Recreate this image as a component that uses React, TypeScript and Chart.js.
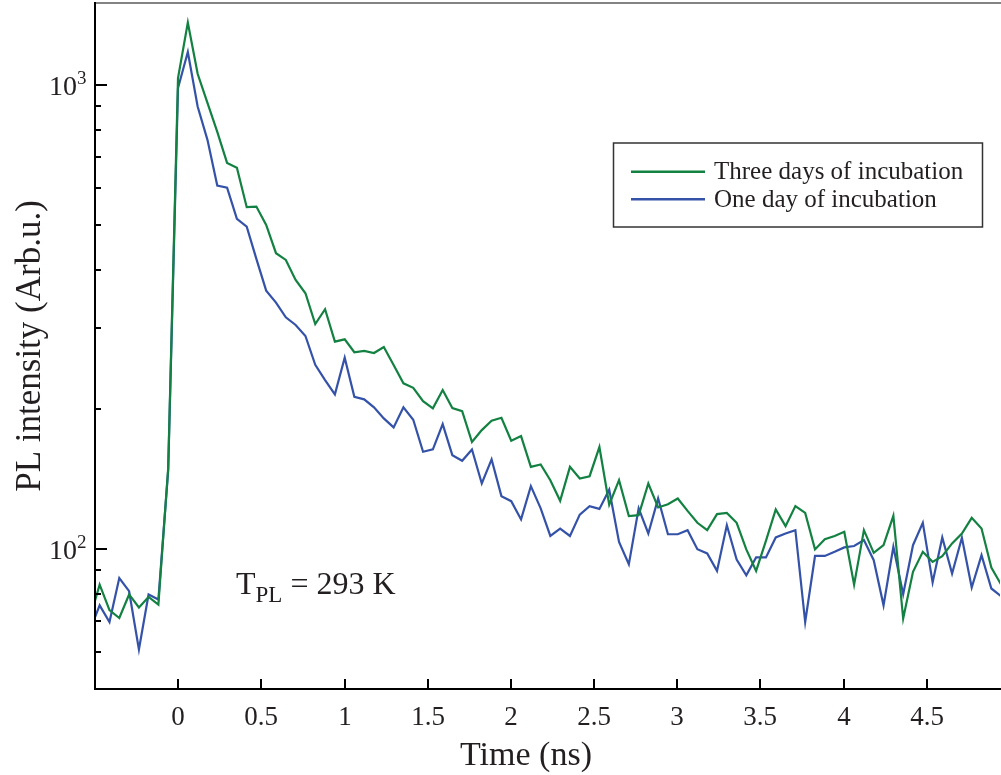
import React, { useEffect, useRef } from "react";
import { Chart, registerables } from "chart.js";

Chart.register(...registerables);

// ---- data (time in ns, PL intensity in arb. units) ----
const timeNs = [
  -0.531, -0.472, -0.413, -0.354, -0.295, -0.236, -0.178, -0.119, -0.06, -0.001,
  0.058, 0.117, 0.176, 0.235, 0.294, 0.353, 0.412, 0.47, 0.529, 0.588,
  0.647, 0.706, 0.765, 0.824, 0.883, 0.942, 1.001, 1.059, 1.118, 1.177,
  1.236, 1.295, 1.354, 1.413, 1.472, 1.531, 1.59, 1.648, 1.707, 1.766,
  1.825, 1.884, 1.943, 2.002, 2.061, 2.12, 2.179, 2.237, 2.296, 2.355,
  2.414, 2.473, 2.532, 2.591, 2.65, 2.709, 2.768, 2.826, 2.885, 2.944,
  3.003, 3.062, 3.121, 3.18, 3.239, 3.298, 3.357, 3.415, 3.474, 3.533,
  3.592, 3.651, 3.71, 3.769, 3.828, 3.887, 3.946, 4.004, 4.063, 4.122,
  4.181, 4.24, 4.299, 4.358, 4.417, 4.476, 4.535, 4.593, 4.652, 4.711,
  4.77, 4.829, 4.888, 4.947,
];

const threeDays = [
  71.0, 83.9, 73.9, 71.1, 79.9, 74.9, 78.9, 76.0, 149.5,
  1034, 1362, 1056, 914.6, 792, 679, 662.4, 545, 546.7, 499.2,
  433.8, 419.6, 379.9, 355.7, 305.4, 328.6, 279.8, 283.1, 265.5, 267.2,
  264.5, 272.5, 249.2, 227.6, 222.6, 208.4, 201.0, 220.2, 201.3, 198.3,
  170.1, 180.5, 189.1, 191.9, 171.2, 175.2, 150.4, 152.2, 140.8, 127.1,
  150.4, 142.0, 143.6, 165.9, 124.7, 140.8, 117.8, 118.4, 138.5, 123.0,
  125.0, 128.6, 120.9, 114.0, 109.9, 119.0, 119.7, 114.0, 99.9, 89.8,
  104.2, 121.8, 112.1, 123.8, 119.7, 99.9, 105.1, 106.8, 109.0, 83.9,
  109.9, 98.2, 102.0, 118.0, 70.9, 89.4, 98.7, 93.9, 96.6, 102.9,
  108.1, 116.8, 110.8, 91.3, 83.9,
];

const oneDay = [
  66.9, 75.7, 69.7, 86.7, 81.2, 60.8, 79.9, 77.9, 148.0,
  983.8, 1176, 898, 761, 606.7, 600.7, 514.3, 495, 421.7, 360.3,
  339.5, 315.8, 303.9, 287.8, 249.5, 231.3, 215.5, 258.4, 212.9, 210.2,
  202.0, 191.3, 182.9, 202.0, 190.0, 162.1, 164.0, 185.9, 159.4, 155.0,
  164.0, 138.5, 156.1, 130.1, 126.9, 115.9, 136.7, 122.4, 106.8, 110.8,
  106.8, 118.7, 123.8, 122.1, 134.3, 103.7, 92.8, 122.4, 108.1, 128.6,
  107.7, 107.7, 109.9, 100, 97.9, 89.8, 112.6, 95.0, 87.9, 96.0,
  96.0, 106.0, 108.1, 109.9, 69.7, 96.7, 96.7, 98.7, 100.9, 101.6,
  104.6, 94.7, 75.7, 101.2, 80.0, 102.0, 114.0, 84.8, 106.0, 88.6,
  105.8, 82.7, 97.1, 82.3, 79.2,
];

const seriesNames = ["Three days of incubation", "One day of incubation"];
const seriesColors = ["#138141", "#3452a8"];

const xTickValues = [0, 0.5, 1, 1.5, 2, 2.5, 3, 3.5, 4, 4.5];
const xTickLabels = ["0", "0.5", "1", "1.5", "2", "2.5", "3", "3.5", "4", "4.5"];
const yMajorValues = [100, 1000];
const yMajorExponents = ["2", "3"];
const yMinorValues = [50, 60, 70, 80, 90, 200, 300, 400, 500, 600, 700, 800, 900];

const xTitle = "Time (ns)";
const yTitle = "PL intensity (Arb.u.)";
const annotationMain = "T";
const annotationSub = "PL";
const annotationRest = " = 293 K";

const SERIF = '"Liberation Serif", "Times New Roman", Times, serif';
const TEXT = "#231f20";

const framePlugin = {
  id: "frameAndText",
  afterDatasetsDraw(chart: any) {
    const { ctx, chartArea: a, scales } = chart;
    const x = scales.x;
    const y = scales.y;
    ctx.save();

    // top spine
    ctx.strokeStyle = "#5a5a5a";
    ctx.lineWidth = 1.5;
    ctx.beginPath();
    ctx.moveTo(a.left, a.top);
    ctx.lineTo(a.right + 2, a.top);
    ctx.stroke();

    // left and bottom spines
    ctx.strokeStyle = "#000";
    ctx.lineWidth = 2;
    ctx.beginPath();
    ctx.moveTo(a.left, a.top - 1);
    ctx.lineTo(a.left, a.bottom);
    ctx.lineTo(a.right + 2, a.bottom);
    ctx.stroke();

    // x ticks + labels
    ctx.fillStyle = TEXT;
    ctx.font = `27px ${SERIF}`;
    ctx.textAlign = "center";
    ctx.textBaseline = "alphabetic";
    xTickValues.forEach((v, i) => {
      const px = Math.round(x.getPixelForValue(v));
      ctx.beginPath();
      ctx.moveTo(px, a.bottom);
      ctx.lineTo(px, a.bottom - 10);
      ctx.stroke();
      ctx.fillText(xTickLabels[i], px, a.bottom + 36);
    });

    // y minor ticks
    yMinorValues.forEach((v) => {
      const py = Math.round(y.getPixelForValue(v));
      ctx.beginPath();
      ctx.moveTo(a.left, py);
      ctx.lineTo(a.left + 6, py);
      ctx.stroke();
    });

    // y major ticks + labels
    yMajorValues.forEach((v, i) => {
      const py = Math.round(y.getPixelForValue(v));
      ctx.beginPath();
      ctx.moveTo(a.left, py);
      ctx.lineTo(a.left + 12, py);
      ctx.stroke();
      ctx.font = `28px ${SERIF}`;
      ctx.textAlign = "right";
      ctx.fillText("10", a.left - 18, py + 10);
      ctx.font = `19px ${SERIF}`;
      ctx.textAlign = "left";
      ctx.fillText(yMajorExponents[i], a.left - 18, py - 1);
    });

    // axis titles
    ctx.font = `34px ${SERIF}`;
    ctx.textAlign = "center";
    ctx.fillText(xTitle, 526, 765);

    ctx.save();
    ctx.translate(40, (a.top + a.bottom) / 2);
    ctx.rotate(-Math.PI / 2);
    ctx.font = `35px ${SERIF}`;
    ctx.textAlign = "center";
    ctx.fillText(yTitle, 0, 0);
    ctx.restore();

    // annotation T_PL = 293 K
    ctx.textAlign = "left";
    let ax = 236;
    ctx.font = `32px ${SERIF}`;
    ctx.fillText(annotationMain, ax, 594);
    ax += ctx.measureText(annotationMain).width;
    ctx.font = `23px ${SERIF}`;
    ctx.fillText(annotationSub, ax, 601.5);
    ax += ctx.measureText(annotationSub).width;
    ctx.font = `32px ${SERIF}`;
    ctx.fillText(annotationRest, ax, 594);

    // legend box
    ctx.strokeStyle = "#333";
    ctx.lineWidth = 1.5;
    ctx.strokeRect(613.5, 143, 369, 84);
    const rows = [171.7, 199.3];
    ctx.font = `25px ${SERIF}`;
    seriesNames.forEach((name, i) => {
      ctx.strokeStyle = seriesColors[i];
      ctx.lineWidth = 2.5;
      ctx.beginPath();
      ctx.moveTo(631, rows[i]);
      ctx.lineTo(705, rows[i]);
      ctx.stroke();
      ctx.fillStyle = TEXT;
      ctx.fillText(name, 714, rows[i] + 7.5);
    });

    ctx.restore();
  },
};

export default function App() {
  const canvasRef = useRef<HTMLCanvasElement | null>(null);

  useEffect(() => {
    const canvas = canvasRef.current;
    if (!canvas) return;
    const chart = new Chart(canvas, {
      type: "line",
      data: {
        datasets: [
          {
            label: seriesNames[0],
            data: timeNs.map((t, i) => ({ x: t, y: threeDays[i] })),
            borderColor: seriesColors[0],
            borderWidth: 2.2,
            pointRadius: 0,
            tension: 0,
            fill: false,
            clip: 0,
          },
          {
            label: seriesNames[1],
            data: timeNs.map((t, i) => ({ x: t, y: oneDay[i] })),
            borderColor: seriesColors[1],
            borderWidth: 2.2,
            pointRadius: 0,
            tension: 0,
            fill: false,
            clip: 0,
          },
        ],
      },
      options: {
        responsive: false,
        animation: false,
        devicePixelRatio: 1,
        layout: { padding: { left: 95, top: 3, right: 1, bottom: 86 } },
        plugins: {
          legend: { display: false },
          tooltip: { enabled: false },
          title: { display: false },
        },
        scales: {
          x: { type: "linear", min: -0.5, max: 4.94, display: false },
          y: { type: "logarithmic", min: 50, max: 1500, display: false },
        },
      },
      plugins: [framePlugin],
    });
    return () => chart.destroy();
  }, []);

  return (
    <div style={{ position: "fixed", left: 0, top: 0, width: 1001, height: 775, background: "#fff" }}>
      <canvas ref={canvasRef} width={1001} height={775} style={{ display: "block" }} />
    </div>
  );
}
